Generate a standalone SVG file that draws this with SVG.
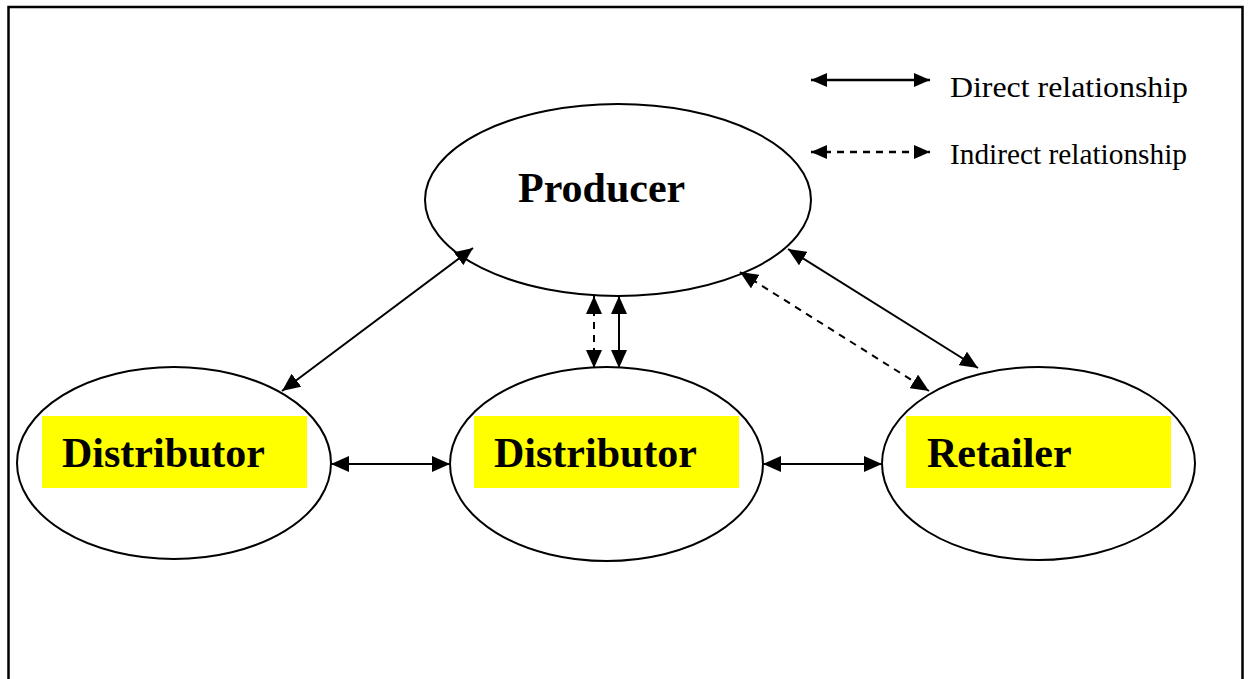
<svg xmlns="http://www.w3.org/2000/svg" width="1250" height="679" viewBox="0 0 1250 679">
  <defs>
    <marker id="ah" viewBox="0 0 18 16" refX="18" refY="8" markerWidth="18" markerHeight="16" markerUnits="userSpaceOnUse" orient="auto-start-reverse">
      <path d="M0,0 L18,8 L0,16 z" fill="#000"/>
    </marker>
    <marker id="ahs" viewBox="0 0 16 14" refX="16" refY="7" markerWidth="16" markerHeight="14" markerUnits="userSpaceOnUse" orient="auto-start-reverse">
      <path d="M0,0 L16,7 L0,14 z" fill="#000"/>
    </marker>
  </defs>
  <style>
    .node { fill: #fff; stroke: #000; stroke-width: 2; }
    .hl { fill: #ffff00; }
    .lbl { font-family: "Liberation Serif", "Times New Roman", serif; font-weight: bold; font-size: 42px; fill: #000; }
    .leg { font-family: "Liberation Serif", "Times New Roman", serif; fill: #000; }
    .conn { stroke: #000; stroke-width: 2; fill: none; marker-start: url(#ah); marker-end: url(#ah); }
    .legc { stroke: #000; stroke-width: 2.5; fill: none; marker-start: url(#ahs); marker-end: url(#ahs); }
    .dash { stroke-dasharray: 7 6; }
  </style>
  <rect x="0" y="0" width="1250" height="679" fill="#fff"/>
  <rect x="8.5" y="7" width="1234" height="700" fill="none" stroke="#000" stroke-width="2.5"/>

  <g id="legend">
    <line class="legc" x1="811" y1="80" x2="930" y2="80"/>
    <text class="leg" x="950" y="97" font-size="30" textLength="238" lengthAdjust="spacingAndGlyphs">Direct relationship</text>
    <line class="legc dash" x1="811" y1="152" x2="930" y2="152"/>
    <text class="leg" x="950" y="164" font-size="29" textLength="237" lengthAdjust="spacingAndGlyphs">Indirect relationship</text>
  </g>

  <g id="producer">
    <ellipse class="node" cx="618" cy="200" rx="193" ry="96"/>
    <text class="lbl" x="518" y="202">Producer</text>
  </g>

  <g id="distributor1">
    <ellipse class="node" cx="174" cy="463" rx="157" ry="96"/>
    <rect class="hl" x="42" y="416" width="265" height="72"/>
    <text class="lbl" x="62" y="467">Distributor</text>
  </g>

  <g id="distributor2">
    <ellipse class="node" cx="606.5" cy="464" rx="156.5" ry="97"/>
    <rect class="hl" x="474" y="416" width="265" height="72"/>
    <text class="lbl" x="494" y="467">Distributor</text>
  </g>

  <g id="retailer">
    <ellipse class="node" cx="1038.5" cy="463.5" rx="156.5" ry="96.5"/>
    <rect class="hl" x="906" y="416" width="265" height="72"/>
    <text class="lbl" x="927" y="467">Retailer</text>
  </g>

  <g id="connectors">
    <line class="conn" x1="473" y1="248" x2="282" y2="391"/>
    <line class="conn dash" x1="594" y1="296" x2="594" y2="368"/>
    <line class="conn" x1="619" y1="296" x2="619" y2="368"/>
    <line class="conn dash" x1="740" y1="272" x2="929" y2="391"/>
    <line class="conn" x1="788" y1="249" x2="978" y2="368"/>
    <line class="conn" x1="331" y1="464" x2="450" y2="464"/>
    <line class="conn" x1="763" y1="464" x2="882" y2="464"/>
  </g>
</svg>
